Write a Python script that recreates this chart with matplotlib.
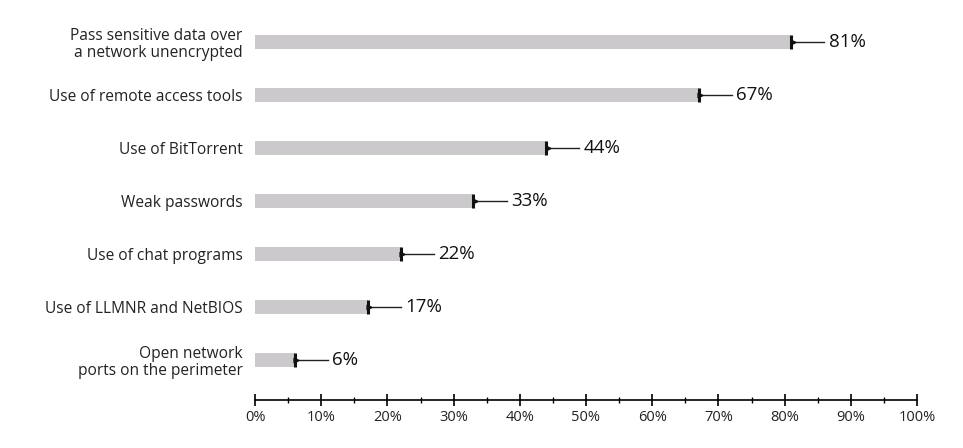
import matplotlib.pyplot as plt
import numpy as np

# donnees
categories = ["Pass sensitive data over\na network unencrypted",
              "Use of remote access tools",
              "Use of BitTorrent",
              "Weak passwords",
              "Use of chat programs",
              "Use of LLMNR and NetBIOS",
              "Open network\nports on the perimeter"]
valeurs = [81, 67, 44, 33, 22, 17, 6]
ticks = list(range(0, 101, 10))
ticklabels = [str(t) + "%" for t in ticks]

plt.rcParams['font.family'] = ['Open Sans', 'DejaVu Sans']

fig = plt.figure(figsize=(9.63, 4.48), dpi=100)
ax = fig.add_axes([255/963, 1-400/448, (917-255)/963, (400-15)/448])

y = np.arange(len(categories))
ax.barh(y, valeurs, height=0.27, color='#cbc9cb', zorder=1)

for i, v in enumerate(valeurs):
    # trait fin jusqu'a l'etiquette
    ax.plot([v, v+5], [i, i], color='#222222', lw=1, zorder=2)
    ax.plot(v, i, marker='|', color='#111111', ms=10, mew=2.2, zorder=3)
    ax.plot(v+0.25, i, marker='>', color='#111111', ms=3.5, zorder=3)
    ax.text(v+5.7, i, str(v) + "%", va='center', ha='left', fontsize=13.5, color='#111111')

ax.set_yticks(y)
ax.set_yticklabels(categories, fontsize=11.2, color='#222222', linespacing=1.05)
ax.tick_params(axis='y', length=0, pad=9)

ax.set_xlim(0, 100)
ax.set_ylim(6.755, -0.509)
ax.set_xticks(ticks)
ax.set_xticklabels(ticklabels, fontsize=10.5, color='#222222')
ax.set_xticks(np.arange(5, 100, 10), minor=True)
ax.tick_params(axis='x', which='major', direction='inout', length=8, width=1.2, pad=3)
ax.tick_params(axis='x', which='minor', direction='inout', length=4, width=1)

for s in ['top', 'right', 'left']:
    ax.spines[s].set_visible(False)
ax.spines['bottom'].set_linewidth(1.2)

plt.savefig("out.png", dpi=100)
